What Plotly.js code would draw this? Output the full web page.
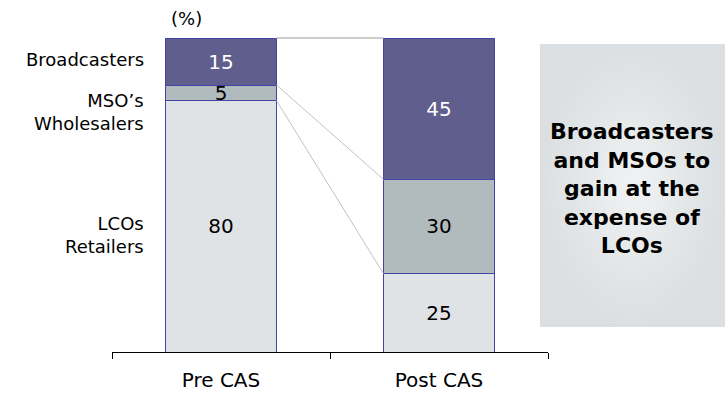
<!DOCTYPE html>
<html><head><meta charset="utf-8">
<script src="https://cdn.plot.ly/plotly-3.0.1.min.js"></script>
<style>html,body{margin:0;padding:0;background:#fff}#chart{width:728px;height:395px}</style>
</head><body><div id="chart"></div>
<script>
const categories = ['Pre CAS', 'Post CAS'];
const lcos = [80, 25];
const msos = [5, 30];
const broadcasters = [15, 45];
const seriesNames = ['LCOs Retailers', "MSO’s Wholesalers", 'Broadcasters'];
const sideLabels = ['Broadcasters', 'MSO’s<br>Wholesalers', 'LCOs<br>Retailers'];
const calloutText = 'Broadcasters<br>and MSOs to<br>gain at the<br>expense of<br>LCOs';
const unitLabel = '(%)';

const W = 728, H = 395;
const FONT = 'DejaVu Sans, Verdana, sans-serif';
const barGap = 0.49;
const half = (1 - barGap) / 2;
const outline = {color: '#4444a6', width: 1};
const yTop = 100 * 324 / 314;

function barTrace(vals, name, fill, txtColor) {
  return {
    type: 'bar', x: categories, y: vals, name: name,
    marker: {color: fill, line: outline},
    text: vals.map(String), textposition: 'inside', insidetextanchor: 'middle',
    textangle: 0, constraintext: 'none', cliponaxis: false,
    textfont: {family: FONT, size: 20, color: txtColor},
    hoverinfo: 'skip'
  };
}

const traces = [
  barTrace(lcos, seriesNames[0], '#e0e3e5', '#000'),
  barTrace(msos, seriesNames[1], '#b1bbbe', '#000'),
  barTrace(broadcasters, seriesNames[2], '#5f5e8d', '#fff'),
  {
    type: 'scatter', mode: 'lines', xaxis: 'x2', yaxis: 'y2',
    x: [540, 725, 725, 540, 540], y: [44, 44, 327, 327, 44],
    fill: 'toself', line: {width: 0},
    fillgradient: {type: 'radial', colorscale: [[0, '#f1f2f3'], [0.6, '#e3e6e7'], [1, '#dcdfe1']]},
    hoverinfo: 'skip', showlegend: false
  }
];

const linkLevels = [
  [lcos[0] + msos[0] + broadcasters[0], lcos[1] + msos[1] + broadcasters[1]],
  [lcos[0] + msos[0], lcos[1] + msos[1]],
  [lcos[0], lcos[1]]
];
const shapes = linkLevels.map(([a, b], i) => ({
  type: 'line', xref: 'x', yref: 'y', x0: 0 + half, x1: 1 - half, y0: a, y1: b,
  line: {color: i === 0 ? '#bcbcbc' : '#c2c2c2', width: i === 0 ? 1.3 : 1}, layer: 'above'
}));

const pxY = py => 100 * (352 - py) / 314;
const annotations = [
  {text: sideLabels[0], xref: 'paper', yref: 'y', x: 146 / W, y: pxY(59), xanchor: 'right', yanchor: 'middle', align: 'right', showarrow: false, font: {family: FONT, size: 18, color: '#000'}},
  {text: sideLabels[1], xref: 'paper', yref: 'y', x: 146 / W, y: pxY(112), xanchor: 'right', yanchor: 'middle', align: 'right', showarrow: false, font: {family: FONT, size: 18, color: '#000'}},
  {text: sideLabels[2], xref: 'paper', yref: 'y', x: 146 / W, y: pxY(235), xanchor: 'right', yanchor: 'middle', align: 'right', showarrow: false, font: {family: FONT, size: 18, color: '#000'}},
  {text: unitLabel, xref: 'paper', yref: 'paper', x: 187 / W, y: 1 - 18 / H, xanchor: 'center', yanchor: 'middle', showarrow: false, font: {family: FONT, size: 18, color: '#000'}},
  {text: '<b>' + calloutText + '</b>', xref: 'paper', yref: 'paper', x: 632 / W, y: 1 - 188 / H, xanchor: 'center', yanchor: 'middle', align: 'center', showarrow: false, font: {family: FONT, size: 22, color: '#000'}}
];

const layout = {
  width: W, height: H,
  margin: {l: 0, r: 0, t: 0, b: 0},
  paper_bgcolor: '#fff', plot_bgcolor: 'rgba(0,0,0,0)',
  barmode: 'stack', bargap: barGap, showlegend: false,
  xaxis: {
    domain: [112 / W, 548 / W], range: [-0.5, 1.5], type: 'category',
    showline: true, linecolor: '#000', linewidth: 1,
    ticks: 'outside', tickson: 'boundaries', ticklen: 6, tickcolor: '#000',
    ticklabelstandoff: 10,
    showgrid: false, zeroline: false,
    tickfont: {family: FONT, size: 20, color: '#000'}
  },
  yaxis: {
    domain: [43 / H, 367 / H], range: [0, yTop], visible: false, fixedrange: true
  },
  xaxis2: {domain: [0, 1], range: [0, W], visible: false, anchor: 'y2'},
  yaxis2: {domain: [0, 1], range: [H, 0], visible: false, anchor: 'x2'},
  shapes: shapes,
  annotations: annotations
};

Plotly.newPlot('chart', traces, layout, {displayModeBar: false, staticPlot: true});
</script></body></html>
